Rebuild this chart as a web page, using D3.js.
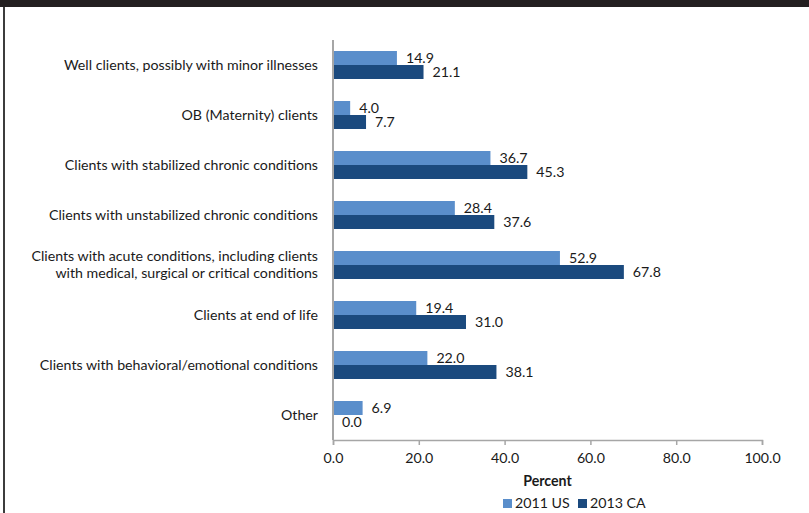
<!DOCTYPE html>
<html>
<head>
<meta charset="utf-8">
<script src="https://cdn.jsdelivr.net/npm/d3@7"></script>
<style>
  body { margin: 0; background: #fff; }
  svg text { font-family: Lato, "Open Sans", sans-serif; fill: #1a1a1a; }
</style>
</head>
<body>
<svg id="chart" width="809" height="513"></svg>
<script>
// categories, top to bottom (multi-line labels split with "|")
const categories = [
    "Well clients, possibly with minor illnesses",
    "OB (Maternity) clients",
    "Clients with stabilized chronic conditions",
    "Clients with unstabilized chronic conditions",
    "Clients with acute conditions, including clients|with medical, surgical or critical conditions",
    "Clients at end of life",
    "Clients with behavioral/emotional conditions",
    "Other"
];
const seriesNames = ["2011 US", "2013 CA"];
const us2011 = [14.9, 4.0, 36.7, 28.4, 52.9, 19.4, 22.0, 6.9];
const ca2013 = [21.1, 7.7, 45.3, 37.6, 67.8, 31.0, 38.1, 0.0];
const xTicks = [0, 20, 40, 60, 80, 100];
const colors = ["#5a8ecb", "#1b4a7e"];
const fontSize = '14.2px';

const svg = d3.select('#chart');

// frame: dark band at top, border on the left
svg.append('rect').attr('x', 0).attr('y', 0).attr('width', 809).attr('height', 7).attr('fill', '#231f20');
svg.append('rect').attr('x', 3).attr('y', 7).attr('width', 2).attr('height', 506).attr('fill', '#3c3c3c');

const x = d3.scaleLinear().domain([0, 100]).range([333, 762]);

const y = d3.scaleBand()
    .domain(categories)
    .range([40, 440])
    .paddingInner(0.44)
    .paddingOuter(0.22);

const ySub = d3.scaleBand()
    .domain(seriesNames)
    .range([0, y.bandwidth()]);

const rows = categories.map((c, i) => ({ cat: c, values: [us2011[i], ca2013[i]] }));

const groups = svg.selectAll('.row')
    .data(rows)
    .enter().append('g')
    .attr('class', 'row')
    .attr('transform', d => `translate(0,${y(d.cat)})`);

groups.selectAll('rect')
    .data(d => d.values.map((v, j) => ({ v, s: seriesNames[j], j })))
    .enter().append('rect')
    .attr('x', x(0))
    .attr('y', d => ySub(d.s))
    .attr('width', d => x(d.v) - x(0))
    .attr('height', ySub.bandwidth())
    .attr('fill', d => colors[d.j]);

groups.selectAll('.val')
    .data(d => d.values.map((v, j) => ({ v, s: seriesNames[j] })))
    .enter().append('text')
    .attr('class', 'val')
    .attr('x', d => x(d.v) + 9)
    .attr('y', d => ySub(d.s) + ySub.bandwidth() / 2)
    .attr('dy', '0.35em')
    .style('font-size', fontSize)
    .text(d => d.v.toFixed(1));

// category labels
const yAxis = svg.append('g');
rows.forEach(r => {
    const lines = r.cat.split('|');
    const cy = y(r.cat) + y.bandwidth() / 2;
    const t = yAxis.append('text')
        .attr('text-anchor', 'end')
        .style('font-size', fontSize);
    lines.forEach((ln, k) => {
        t.append('tspan')
            .attr('x', 318)
            .attr('y', cy + (k - (lines.length - 1) / 2) * 17)
            .attr('dy', '0.35em')
            .text(ln);
    });
});

// y axis line
svg.append('line')
    .attr('x1', x(0)).attr('x2', x(0))
    .attr('y1', 40).attr('y2', 440)
    .attr('stroke', '#a6a6a6').attr('stroke-width', 2);

// x axis
const xAxis = svg.append('g')
    .attr('transform', 'translate(0,440)')
    .call(d3.axisBottom(x).tickValues(xTicks).tickFormat(d3.format('.1f')).tickSize(5).tickPadding(8));
xAxis.select('.domain').attr('stroke', '#a6a6a6').attr('stroke-width', 1.5);
xAxis.selectAll('.tick line').attr('stroke', '#a6a6a6').attr('stroke-width', 1.5);
xAxis.selectAll('.tick text').style('font-size', fontSize).style('font-family', 'Lato, sans-serif').attr('fill', '#1a1a1a');

svg.append('text')
    .attr('x', (x(0) + x(100)) / 2)
    .attr('y', 481)
    .attr('dy', '0.35em')
    .attr('text-anchor', 'middle')
    .style('font-size', fontSize)
    .style('font-weight', 'bold')
    .text('Percent');

// legend
const legendX = [503, 578];
seriesNames.forEach((s, i) => {
    svg.append('rect')
        .attr('x', legendX[i]).attr('y', 499)
        .attr('width', 9).attr('height', 9)
        .attr('fill', colors[i]);
    svg.append('text')
        .attr('x', legendX[i] + 12)
        .attr('y', 503.5)
        .attr('dy', '0.35em')
        .style('font-size', fontSize)
        .text(s);
});
</script>
</body>
</html>
